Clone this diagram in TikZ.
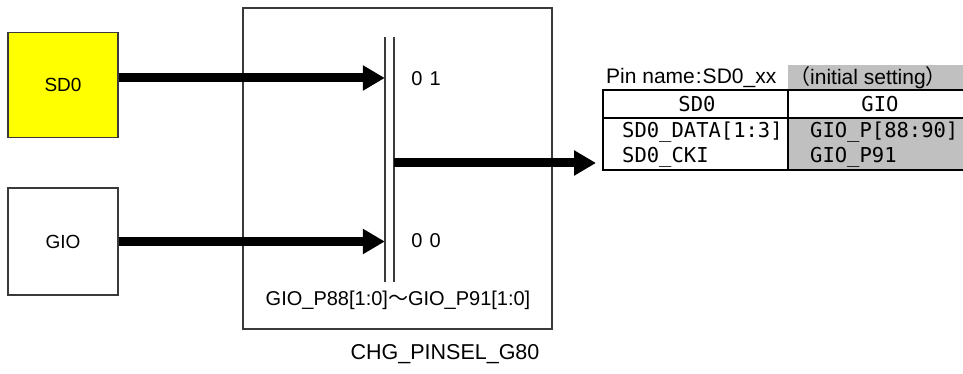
\documentclass[tikz,border=0pt]{standalone}
\usepackage{fontspec}
\setmainfont{Liberation Sans}
\newfontfamily\cjk{Noto Sans CJK JP}
\newfontfamily\mono{DejaVu Sans Mono}
\usetikzlibrary{arrows.meta}
\definecolor{ylw}{HTML}{FFFF00}
\definecolor{gry}{HTML}{C0C0C0}
\definecolor{edge}{HTML}{3A3A3A}
\tikzset{
  blk/.style={draw=edge,line width=1.5pt,minimum width=110pt,minimum height=105pt,inner sep=0pt,font=\fontsize{19}{21}\selectfont},
  fat/.style={line width=9pt,-{Triangle[length=22pt,width=24pt]}},
  lbl/.style={inner sep=0pt,font=\fontsize{20}{22}\selectfont},
  tt/.style={inner sep=0pt,font=\fontsize{21}{23}\selectfont},
  tm/.style={inner sep=0pt,font=\mono\fontsize{20.5}{22}\selectfont},
  rule/.style={line width=2.5pt,line cap=rect},
}
\begin{document}
\begin{tikzpicture}[x=1pt,y=-1pt]
\useasboundingbox (0,0) rectangle (963,374);
% boxes
\node[blk,fill=ylw] (sd0) at (63,85) {SD0};
\node[blk,minimum height=107pt] (gio) at (63,241.5) {GIO};
\node[draw=edge,line width=1.5pt,minimum width=309pt,minimum height=321pt,inner sep=0pt] (sel) at (397.5,168.5) {};
% selector bar
\node[minimum width=9pt,minimum height=245pt,inner sep=0pt] (bar) at (389.5,159.5) {};
\draw[edge,line width=1.5pt] (bar.north west) -- (bar.south west) (bar.north east) -- (bar.south east);
% arrows
\draw[fat] ([yshift=7pt]sd0.east) -- ([yshift=7pt]sd0.east -| bar.west);
\draw[fat] (gio.east) -- (gio.east -| bar.west);
\coordinate (tip) at (596,163);
\draw[fat] (bar.east |- tip) -- (tip);
% selector labels
\node[lbl] (s01) at (426,79) {0\hspace{7pt}1};
\node[lbl] (s00) at (426,241) {0\hspace{7pt}0};
\node[inner sep=0pt,font=\fontsize{20}{22}\selectfont] (rng) at (398,300) {GIO\_P88[1:0]{\cjk ～}GIO\_P91[1:0]};
\node[inner sep=0pt,font=\fontsize{21.5}{23}\selectfont] (chg) at (445,354) {CHG\_PINSEL\_G80};
% table
\fill[gry] (788,65) rectangle (963,90);
\fill[gry] (788,118) rectangle (963,170);
\node[tt,anchor=west] (ttl) at (606,78) {Pin name\hspace{1pt}:\hspace{1pt}SD0\_xx};
\node[tt,anchor=west] (ini) at (789,78) {{\cjk （}initial setting{\cjk ）}};
\draw[rule] (603,90) -- (963,90);
\draw[rule] (603,118) -- (963,118);
\draw[rule] (603,170) -- (963,170);
\draw[rule] (603,90) -- (603,170);
\draw[rule] (788,90) -- (788,170);
\node[tm] (h1) at (697,104) {SD0};
\node[tm] (h2) at (880,104) {GIO};
\node[tm,anchor=west] (c1) at (622,132) {SD0\_DATA[1:3]};
\node[tm,anchor=west] (c2) at (622,157) {SD0\_CKI};
\node[tm,anchor=west] (c3) at (810,132) {GIO\_P[88:90]};
\node[tm,anchor=west] (c4) at (810,157) {GIO\_P91};
\end{tikzpicture}
\end{document}
